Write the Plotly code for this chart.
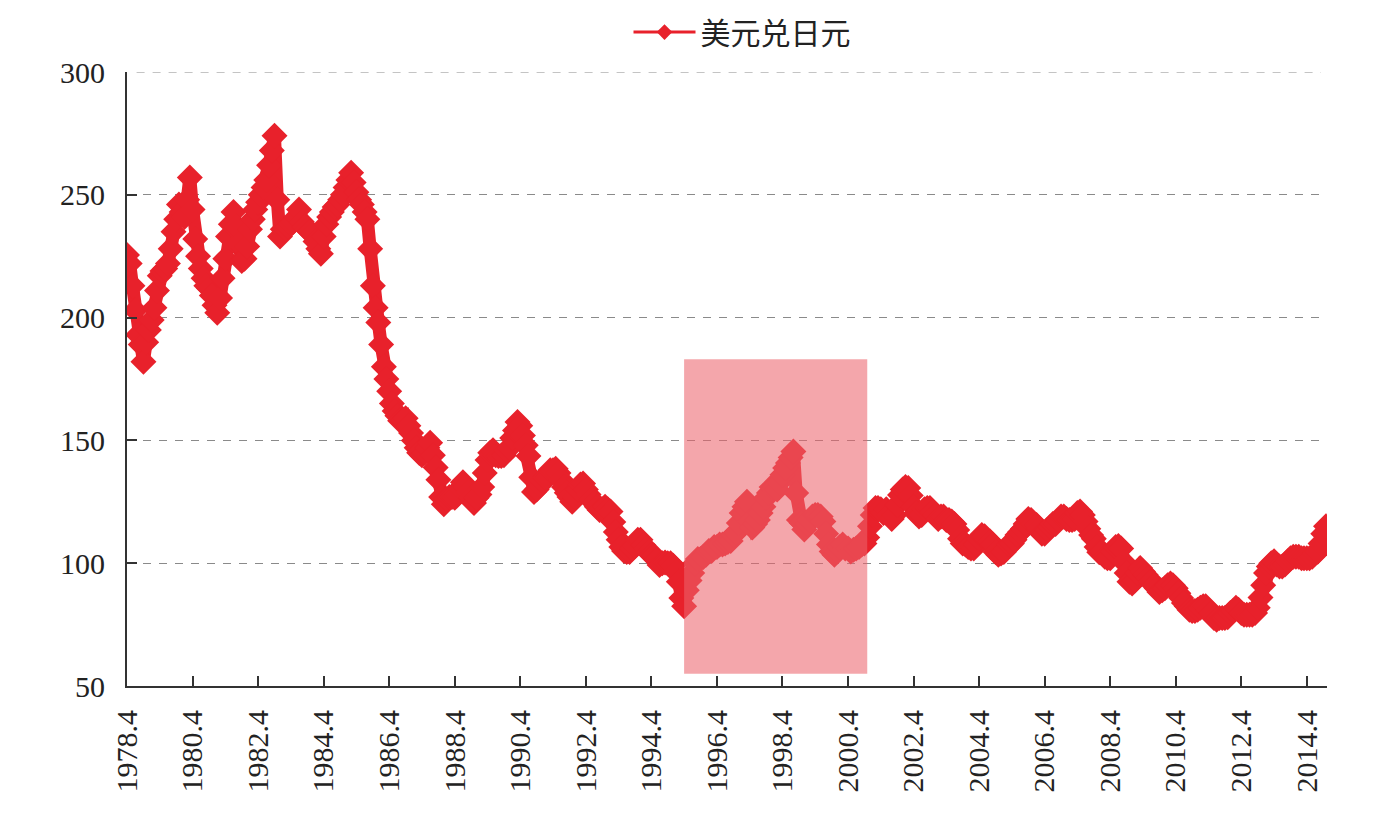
import pandas as pd
import plotly.graph_objects as go

series_name = "美元兑日元"
start_month = "1978-04-01"

# monthly USD/JPY values (Apr 1978 onward)
usdjpy_1978_1985 = [
    225.5, 222, 213, 203, 193, 189, 182, 190, 195,
    199, 204, 211, 217, 219, 220, 222, 228, 235, 240, 246, 243,
    241, 248, 257, 244, 232, 225, 220, 216, 213, 212, 209, 205,
    202, 208, 216, 224, 233, 238, 243, 237, 230, 223, 224, 229,
    236, 240, 244, 247, 250, 253, 256, 262, 268, 274, 248, 233,
    236, 236, 237, 238, 239, 241, 244, 239, 237, 236, 235, 234,
    231, 228, 226, 233, 238, 241, 243, 245, 246, 248, 250, 253,
    256, 259, 255, 251, 248, 246, 243, 240, 228, 213, 204, 198,
]
usdjpy_1986_1994 = [
    189, 180, 175, 170, 165, 162, 160, 158, 158, 159, 156, 153,
    150, 147, 145, 144, 145, 147, 149, 144, 139, 134, 127, 124,
    126, 127, 127, 126.6, 128, 130.6, 133, 131, 129, 126.6, 124.5, 126.6,
    128, 131, 136.7, 142, 145, 146, 144, 143.6, 143.6, 144, 146, 147,
    151, 154, 157.5, 156, 152, 148, 143.6, 135, 129, 130, 132, 133.6,
    135, 135, 137.8, 137.8, 138.5, 136.7, 134, 131, 128.7, 127, 125, 127,
    130, 132, 132.5, 130, 128, 126, 124.5, 123, 121.7, 122, 123, 122,
    121, 116.8, 112.7, 109.5, 106.6, 105, 104.6, 104.6, 106, 107, 109.5, 109.5,
    107.4, 106, 104.6, 103.3, 103, 101.3, 99.3, 100, 100.3, 100, 100, 99,
]
usdjpy_1995_2003 = [
    96.4, 92.4, 85.8, 82.5, 89, 93, 96, 100, 101.7, 101.7, 102.5, 103.4,
    105, 105, 106.6, 106.6, 107.6, 107.6, 108, 108.6, 109, 111.5, 112.5, 116.4,
    120.4, 123, 125, 117, 114.5, 116, 117.6, 120.4, 123, 126.6, 128.6, 131,
    131, 130, 133, 136, 138.8, 140.8, 143, 145.5, 128.6, 117.6, 116.4, 113.7,
    116, 117.6, 119, 119.6, 119.6, 119, 117, 112, 107.6, 104.8, 103.4, 104.8,
    106.6, 107.6, 106, 106, 104.8, 105.5, 106, 106.6, 107.6, 108, 110.5, 115,
    119.6, 122.5, 122.5, 122, 120.4, 122, 119.6, 118, 119.6, 123.7, 127.8, 130,
    131, 130.6, 127.6, 123, 120.4, 119, 119.6, 122, 122.5, 122.5, 121, 119.6,
    118, 119, 119, 117.6, 117.6, 117, 116, 113.5, 110, 108, 107.6, 106.6,
]
usdjpy_2004_2014 = [
    106, 106, 107.6, 110, 111.5, 111, 109.5, 108.8, 107.6, 104.6, 103.4, 104,
    104.6, 106, 107.6, 108, 109.5, 111.5, 112.7, 114, 116, 118, 117.6, 116,
    115.6, 114, 112, 112, 113.5, 114.7, 116, 116, 117.6, 119, 119, 118,
    117.6, 117.6, 118, 120.4, 121, 119.6, 117, 114, 111.5, 110, 106.6, 104.5,
    104.7, 102.6, 102, 102, 104.7, 106.6, 107, 106, 100.5, 96, 92.4, 91.7,
    93, 96, 98, 96.6, 95.3, 94, 92.4, 91, 89.8, 88.3, 89, 89.8,
    91, 91.7, 91, 89.8, 87.8, 85.8, 83.8, 82.5, 81, 80.5, 80.5, 81,
    81.9, 82.5, 82.5, 81, 79.7, 77.7, 77, 77.7, 77.7, 77.7, 78, 79.7,
    80.5, 81.9, 81, 79.7, 79, 79, 79, 79, 79.7, 81.9, 86, 91,
    96, 98.7, 100, 100.8, 99.5, 98.7, 98.7, 99.5, 100.8, 102, 102.6, 102.6,
    102.6, 102, 102, 102, 102, 102.6, 104, 104.7, 108, 112, 115,
]

tick_years = list(range(1978, 2015, 2))
tick_labels = [f"{y}.4" for y in tick_years]
y_ticks = [50, 100, 150, 200, 250, 300]

shade_start = "1995-04-01"
shade_end = "2000-11-01"
shade_low = 55
shade_high = 183

values = usdjpy_1978_1985 + usdjpy_1986_1994 + usdjpy_1995_2003 + usdjpy_2004_2014
dates = pd.date_range(start_month, periods=len(values), freq="MS")

red = "#E8212B"
axis_col = "#333"
fig = go.Figure()
fig.add_trace(go.Scatter(
    x=dates, y=values, mode="lines+markers", name=series_name, showlegend=False,
    line=dict(color=red, width=13),
    marker=dict(symbol="diamond", size=20, color=red),
))
# legend entry (thin line with a small diamond, as in the original legend)
fig.add_trace(go.Scatter(
    x=[None], y=[None], mode="lines+markers", name=series_name,
    line=dict(color=red, width=3),
    marker=dict(symbol="diamond", size=12, color=red),
))

fig.add_shape(type="rect", xref="x", yref="y",
              x0=shade_start, x1=shade_end, y0=shade_low, y1=shade_high,
              fillcolor="rgb(235,98,108)", opacity=0.57, line=dict(width=0),
              layer="above")
# top gridline (plotly omits the grid line on the range edge)
fig.add_shape(type="line", xref="paper", yref="y", x0=0.008, x1=0.995,
              y0=y_ticks[-1], y1=y_ticks[-1],
              line=dict(color="#8a8a8a", width=1, dash="8px,8px"), layer="below")

tick_vals = [f"{y}-04-01" for y in tick_years]
fig.update_layout(
    width=1396, height=820,
    margin=dict(l=127, r=69, t=72, b=134, autoexpand=False),
    paper_bgcolor="white", plot_bgcolor="white",
    font=dict(family="Liberation Serif", size=30, color="#222"),
    showlegend=True,
    legend=dict(orientation="h", x=0.5125, xanchor="center", y=1.065, yanchor="middle",
                font=dict(family="Noto Sans CJK SC", size=30, color="#222"),
                itemwidth=62, bgcolor="rgba(0,0,0,0)"),
    xaxis=dict(type="date", range=[start_month, "2014-11-12"],
               tickvals=tick_vals, ticktext=tick_labels, tickangle=-90,
               ticks="inside", ticklen=10, tickwidth=2, tickcolor=axis_col,
               ticklabelstandoff=10,
               showline=True, linecolor=axis_col, linewidth=2,
               showgrid=False, zeroline=False,
               tickfont=dict(family="Liberation Serif", size=30, color="#222")),
    yaxis=dict(range=[50, 300], tickvals=y_ticks,
               ticks="inside", ticklen=10, tickwidth=2, tickcolor=axis_col,
               ticklabelstandoff=14,
               showline=True, linecolor=axis_col, linewidth=2,
               showgrid=True, gridcolor="#8a8a8a", gridwidth=1, griddash="8px,8px",
               zeroline=False,
               tickfont=dict(family="Liberation Serif", size=30, color="#222")),
)

fig.write_html("out.html")
